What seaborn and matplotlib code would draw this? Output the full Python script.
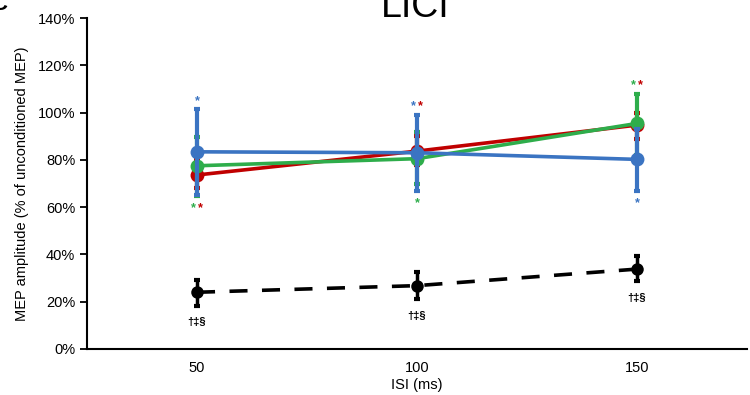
import matplotlib
matplotlib.use("Agg")
import matplotlib.pyplot as plt
import seaborn as sns
import pandas as pd
import numpy as np

# ---- data ----
isi_labels = ["50", "100", "150"]
series_names = ["red", "green", "blue"]
red_mean = [73.6, 83.7, 94.7]
red_lo = [67.9, 77.8, 89.0]
red_hi = [79.9, 90.0, 100.0]
green_mean = [77.5, 80.5, 95.4]
green_lo = [64.7, 70.0, 82.0]
green_hi = [89.6, 91.9, 108.0]
blue_mean = [83.4, 83.0, 80.2]
blue_lo = [65.0, 67.0, 67.0]
blue_hi = [101.5, 99.0, 93.0]
black_mean = [24.0, 26.8, 33.8]
black_lo = [18.3, 21.0, 28.8]
black_hi = [29.3, 32.4, 39.3]
# significance stars per category
stars_above = [["blue"], ["blue", "red"], ["green", "red"]]
stars_below = [["green", "red"], ["green"], ["blue"]]
dagger_text = "†‡§"

colors = {"red": "#C00000", "green": "#2EAD4B", "blue": "#3B74C2", "black": "#000000"}

sns.set_style("white")
plt.rcParams["font.family"] = ["Liberation Sans", "DejaVu Sans"]
plt.rcParams.update({"text.color": "black", "axes.labelcolor": "black",
                     "xtick.color": "black", "ytick.color": "black"})

fig = plt.figure(figsize=(7.5, 3.95), dpi=100)
ax = fig.add_axes([87/750, 1-349/395, (747-87)/750, (349-18)/395])

x = np.arange(len(isi_labels))
data = {
    "red": (red_mean, red_lo, red_hi),
    "green": (green_mean, green_lo, green_hi),
    "blue": (blue_mean, blue_lo, blue_hi),
}

z = 3
for name in series_names:
    m, lo, hi = data[name]
    m = np.array(m); lo = np.array(lo); hi = np.array(hi)
    ax.errorbar(x, m, yerr=[m - lo, hi - m], fmt="none", ecolor=colors[name],
                elinewidth=3, capsize=2.5, capthick=3, zorder=z)
    df = pd.DataFrame({"x": x, "y": m})
    sns.lineplot(data=df, x="x", y="y", ax=ax, color=colors[name], linewidth=2.6,
                 marker="o", markersize=10, markeredgewidth=0, zorder=z + 0.5)
    z += 1

bm = np.array(black_mean); blo = np.array(black_lo); bhi = np.array(black_hi)
ax.errorbar(x, bm, yerr=[bm - blo, bhi - bm], fmt="none", ecolor="black",
            elinewidth=2.5, capsize=2.5, capthick=3, zorder=z)
dfb = pd.DataFrame({"x": x, "y": bm})
sns.lineplot(data=dfb, x="x", y="y", ax=ax, color="black", linewidth=2.6,
             marker="o", markersize=9, markeredgewidth=0, zorder=z + 0.5)
ax.lines[-1].set_dashes([5, 4])

all_hi = np.max([red_hi, green_hi, blue_hi], axis=0)
all_lo = np.min([red_lo, green_lo, blue_lo], axis=0)
for i in range(len(isi_labels)):
    for group, yref, dy in ((stars_above[i], all_hi[i], 6), (stars_below[i], all_lo[i], -9)):
        n = len(group)
        for k, name in enumerate(group):
            dx = (k - (n - 1) / 2) * 5.5
            ax.annotate("*", (x[i], yref), xytext=(dx, dy), textcoords="offset points",
                        ha="center", va="center", color=colors[name], fontsize=9,
                        fontweight="bold")
    ax.annotate(dagger_text, (x[i], black_lo[i]), xytext=(0, -12), textcoords="offset points",
                ha="center", va="center", fontsize=8, fontweight="bold", color="black")

ax.set_xlim(-0.5, 2.5)
ax.set_ylim(0, 140)
ax.set_yticks(np.arange(0, 141, 20))
ax.set_yticklabels([f"{v}%" for v in range(0, 141, 20)], fontsize=10.5)
ax.set_xticks([-0.5, 0.5, 1.5, 2.5])
ax.set_xticklabels([])
ax.set_xticks(x, minor=True)
ax.set_xticklabels(isi_labels, minor=True, fontsize=10.5)
ax.tick_params(axis="x", which="minor", length=0, pad=9)
ax.tick_params(axis="x", which="major", length=5, width=1.3, direction="out", color="black")
ax.tick_params(axis="y", length=5, width=1.3, direction="out", color="black", left=True)
for s in ["top", "right"]:
    ax.spines[s].set_visible(False)
for s in ["left", "bottom"]:
    ax.spines[s].set_color("black")
    ax.spines[s].set_linewidth(1.5)
ax.set_xlabel("ISI (ms)", fontsize=10.5, labelpad=2)
ax.set_ylabel("MEP amplitude (% of unconditioned MEP)", fontsize=10.5, labelpad=6)
ax.grid(False)

fig.text(415/750, 1 - 17/395, "LICI", ha="center", va="baseline", fontsize=27)
fig.text(-0.012, 1 - 10/395, "C", ha="left", va="baseline", fontsize=16, fontweight="bold")

fig.savefig("out.png", dpi=100)
